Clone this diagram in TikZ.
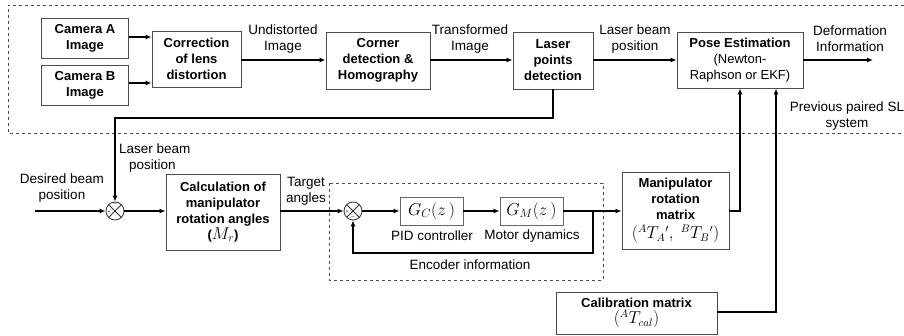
\documentclass[tikz,border=0pt]{standalone}
\usepackage{fontspec}
\setmainfont{Liberation Sans}
\usetikzlibrary{arrows.meta}
\begin{document}
\begin{tikzpicture}[x=1pt,y=-1pt,
    font=\fontsize{13.5}{16}\selectfont,
    blk/.style={draw=black!70,line width=0.9pt,align=center,font=\fontsize{13}{16}\selectfont\bfseries,inner sep=1pt},
    tf/.style={draw=black!60,line width=0.8pt,minimum width=63,minimum height=28,inner sep=0pt,font=\fontsize{17}{18}\selectfont},
    lbl/.style={align=center,inner sep=0pt},
    sumj/.style={circle,draw=black!80,line width=0.8pt,minimum size=18,inner sep=0pt,
      path picture={\draw[black!80,line width=0.8pt]
        (path picture bounding box.north west) -- (path picture bounding box.south east)
        (path picture bounding box.south west) -- (path picture bounding box.north east);}},
    sgn/.style={font=\fontsize{5}{5}\selectfont,inner sep=0pt},
    arr/.style={line width=1.6pt,-{Latex[length=6pt,width=5pt]}},
    grp/.style={dashed,draw=black!70,line width=0.6pt}]
  \useasboundingbox (0,0) rectangle (904,336);
  % group frames
  \draw[grp] (904,5) -- (8,5) -- (8,133) -- (904,133);
  \draw[grp] (329,183) rectangle (603,280);
  % image chain
  \node[blk,minimum width=87,minimum height=40] (camA) at (85,38) {Camera A\\Image};
  \node[blk,minimum width=87,minimum height=40] (camB) at (85,85) {Camera B\\Image};
  \node[blk,minimum width=89,minimum height=56] (corr) at (196.5,59) {Correction\\of lens\\distortion};
  \node[blk,minimum width=104,minimum height=57] (corner) at (378,60.5) {Corner\\detection \&\\Homography};
  \node[blk,minimum width=80,minimum height=57] (laser) at (553,60.5) {Laser\\points\\detection};
  \node[blk,minimum width=126,minimum height=56] (pose) at (740,60) {Pose Estimation\\\mdseries(Newton-\\\mdseries Raphson or EKF)};
  \coordinate (out) at (873,60);
  % manipulator loop
  \coordinate (in) at (35,211);
  \node[sumj] (sum1) at (115,211) {};
  \node[blk,minimum width=114,minimum height=76] (calc) at (223,212) {Calculation of\\manipulator\\rotation angles\\({\fontsize{16}{16}\selectfont$M_r$})};
  \node[sumj] (sum2) at (353,211) {};
  \node[tf] (gc) at (431.5,211) {$G_C(z\,)$};
  \node[tf] (gm) at (531.5,211) {$G_M(z\,)$};
  \node[blk,minimum width=107,minimum height=77] (manip) at (675.5,210.5) {Manipulator\\rotation\\matrix\\[3pt]\mdseries\fontsize{16}{16}\selectfont$({}^{A}T_{A}{}',\ {}^{B}T_{B}{}')$};
  \node[blk,minimum width=161,minimum height=42] (calib) at (636.5,313) {Calibration matrix\\\mdseries\fontsize{16}{16}\selectfont$({}^{A}T_{cal})$};
  % signs
  \node[sgn] at (109,212) {+};
  \node[sgn] at (115,204.5) {$-$};
  \node[sgn] at (347,212) {+};
  \node[sgn] at (353,217.5) {$-$};
  % labels
  \node[lbl] (l1) at (283,39) {Undistorted\\Image};
  \node[lbl] (l2) at (470,39) {Transformed\\Image};
  \node[lbl] (l3) at (635,39) {Laser beam\\position};
  \node[lbl] (l4) at (850,39) {Deformation\\Information};
  \node[lbl] (l5) at (847,116) {Previous paired SL\\system};
  \node[lbl,align=left,anchor=north west] (l6) at (119,144) {Laser beam\\\hspace*{10pt}position};
  \node[lbl] (l7) at (62,188) {Desired beam\\position};
  \node[lbl] (l8) at (306,191) {Target\\angles};
  \node[lbl] (l9) at (432,236) {PID controller};
  \node[lbl] (l10) at (532,236) {Motor dynamics};
  \node[lbl] (l11) at (470,265) {Encoder information};
  % connectors
  \coordinate (fbA) at (553,118);
  \coordinate (tap) at (593,211);
  \coordinate (encR) at (593,253);
  \draw[arr] (camA.east |- 0,37) -- (corr.west |- 0,37);
  \draw[arr] (camB.east |- 0,83) -- (corr.west |- 0,83);
  \draw[arr] (corr.east |- 0,60) -- (corner.west |- 0,60);
  \draw[arr] (corner.east |- 0,60) -- (laser.west |- 0,60);
  \draw[arr] (laser.east |- 0,60) -- (pose.west |- 0,60);
  \draw[arr] (pose.east |- 0,60) -- (out);
  \draw[arr] (laser.south) -- (fbA) -| (sum1.north);
  \draw[arr] (in) -- (sum1.west);
  \draw[arr] (sum1.east) -- (calc.west |- sum1.east);
  \draw[arr] (calc.east |- sum2.west) -- (sum2.west);
  \draw[arr] (sum2.east) -- (gc.west);
  \draw[arr] (gc.east) -- (gm.west);
  \draw[arr] (gm.east) -- (manip.west |- gm.east);
  \draw[arr] (tap) -- (encR) -| (sum2.south);
  \draw[arr] (manip.east |- 0,211) -| (pose.south);
  \draw[arr] (calib.east |- 0,312) -| ([xshift=36]pose.south);
\end{tikzpicture}
\end{document}
